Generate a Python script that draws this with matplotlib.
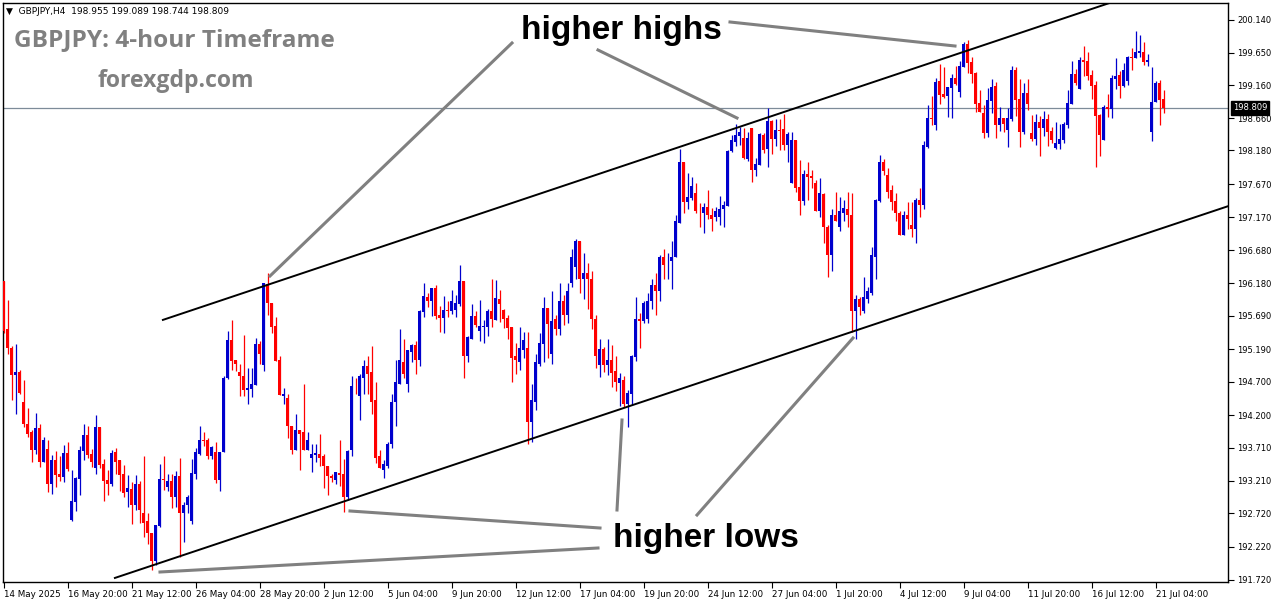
import numpy as np
import matplotlib
matplotlib.use('Agg')
import matplotlib.pyplot as plt
from matplotlib.lines import Line2D

# GBPJPY H4 candles, 14 May 04:00 .. 21 Jul 08:00
opens = [
    196.21, 195.49, 195.21, 194.80, 194.85, 194.40, 194.07, 193.94, 193.68, 194.00,
    193.49, 193.69, 193.17, 193.53, 193.31, 193.27, 193.63, 192.62, 192.89, 193.24,
    193.66, 193.90, 193.61, 193.40, 194.02, 193.46, 193.22, 193.16, 193.64, 193.53,
    193.31, 193.04, 193.09, 192.85, 193.16, 192.73, 192.61, 192.43, 192.01, 192.53,
    193.24, 193.12, 193.21, 192.96, 193.29, 192.73, 192.84, 192.61, 193.31, 193.62,
    193.83, 193.82, 193.59, 193.65, 193.23, 193.64, 194.76, 195.33, 195.02, 194.85,
    194.79, 194.57, 194.59, 194.65, 195.27, 194.95, 196.17, 195.89, 195.54, 195.02,
    194.48, 194.45, 194.04, 193.68, 193.98, 193.94, 193.68, 193.55, 193.60, 193.62,
    193.58, 193.44, 193.29, 193.23, 193.33, 193.31, 192.97, 193.67, 194.64, 194.49,
    194.76, 194.93, 194.84, 194.42, 193.59, 193.38, 193.44, 193.76, 194.39, 194.67,
    195.00, 194.67, 195.15, 195.26, 195.02, 195.75, 195.98, 195.92, 196.11, 195.71,
    195.66, 195.78, 195.77, 195.78, 195.87, 196.22, 195.09, 195.35, 195.69, 195.47,
    195.53, 195.53, 195.77, 195.63, 195.95, 195.78, 195.66, 195.53, 195.08, 195.00,
    195.18, 195.21, 194.10, 194.40, 194.96, 195.27, 195.81, 195.12, 195.64, 195.49,
    195.91, 195.71, 196.19, 196.43, 196.81, 196.25, 196.33, 196.25, 195.64, 194.95,
    195.19, 194.95, 195.02, 194.86, 194.68, 194.72, 194.36, 194.51, 195.07, 195.64,
    195.62, 195.65, 195.91, 196.16, 196.06, 196.58, 196.45, 196.51, 196.57, 197.09,
    198.01, 197.41, 197.47, 197.54, 197.27, 197.24, 197.33, 197.21, 197.17, 197.18,
    197.30, 197.35, 198.17, 198.31, 198.40, 198.37, 198.05, 198.52, 197.89, 197.96,
    198.41, 198.20, 198.62, 198.35, 198.49, 198.50, 198.26, 197.69, 198.34, 197.63,
    197.42, 197.83, 197.80, 197.69, 197.26, 197.53, 197.03, 196.60, 197.21, 197.02,
    197.24, 197.30, 197.21, 195.77, 195.94, 195.76, 195.94, 196.04, 196.58, 197.42,
    198.01, 197.81, 197.59, 197.42, 197.24, 196.91, 197.21, 197.06, 197.00, 197.44,
    197.36, 198.23, 198.67, 198.56, 199.22, 199.03, 199.00, 199.12, 199.27, 199.06,
    199.43, 199.78, 199.51, 199.34, 198.89, 198.74, 198.44, 198.92, 199.15, 198.56,
    198.67, 198.49, 198.65, 199.39, 198.95, 198.46, 199.04, 198.44, 198.35, 198.61,
    198.52, 198.65, 198.47, 198.22, 198.28, 198.34, 198.56, 198.88, 199.33, 199.10,
    199.54, 199.52, 199.31, 199.16, 198.71, 198.34, 198.83, 198.80, 199.25, 199.31,
    199.15, 199.22, 199.58, 199.57, 199.64, 199.66, 199.51, 198.46, 198.91, 199.19,
    198.955,
]
highs = [
    196.22, 195.93, 195.24, 195.27, 194.88, 194.73, 194.31, 193.98, 194.23, 194.07,
    193.87, 193.83, 193.60, 193.66, 193.59, 193.75, 193.79, 193.37, 193.27, 193.74,
    194.07, 194.04, 193.69, 194.20, 194.02, 193.54, 193.37, 193.68, 193.71, 193.53,
    193.45, 193.30, 193.19, 193.30, 193.21, 193.59, 192.73, 192.43, 192.55, 193.47,
    193.59, 193.31, 193.31, 193.36, 193.56, 192.89, 193.00, 193.54, 193.70, 194.04,
    193.94, 193.85, 193.74, 193.80, 193.65, 194.78, 195.47, 195.63, 195.02, 194.97,
    195.41, 194.90, 194.90, 195.36, 195.32, 196.19, 196.33, 195.89, 195.68, 195.08,
    194.60, 194.51, 194.04, 194.22, 193.98, 194.67, 193.95, 193.77, 193.77, 193.91,
    193.61, 193.44, 193.31, 193.34, 193.82, 193.54, 193.67, 194.79, 194.76, 194.82,
    195.03, 195.09, 195.24, 194.69, 193.67, 193.53, 193.80, 194.52, 195.03, 195.50,
    195.35, 195.17, 195.27, 195.32, 195.78, 196.19, 196.04, 196.11, 196.16, 195.84,
    195.99, 195.92, 196.08, 196.01, 196.46, 196.22, 195.39, 195.87, 195.77, 195.93,
    195.63, 195.80, 196.25, 196.23, 196.08, 195.80, 195.71, 195.53, 195.29, 195.53,
    195.45, 195.45, 194.67, 195.11, 195.44, 195.98, 195.81, 196.07, 195.71, 196.18,
    196.01, 196.19, 196.70, 196.85, 196.81, 196.64, 196.49, 196.37, 195.70, 195.35,
    195.23, 195.35, 195.25, 195.08, 194.83, 194.78, 194.57, 195.10, 195.97, 195.74,
    195.91, 196.04, 196.24, 196.34, 196.61, 196.70, 196.64, 196.81, 197.21, 198.20,
    198.01, 197.84, 197.78, 197.69, 197.39, 197.39, 197.59, 197.32, 197.33, 197.50,
    197.42, 198.19, 198.41, 198.58, 198.53, 198.52, 198.46, 198.52, 198.07, 198.44,
    198.44, 198.82, 198.64, 198.65, 198.65, 198.73, 198.46, 198.46, 198.34, 198.04,
    197.89, 198.01, 197.89, 197.74, 197.77, 197.54, 197.06, 197.30, 197.56, 197.48,
    197.44, 197.56, 197.54, 196.00, 195.97, 196.27, 196.13, 196.73, 197.45, 198.11,
    198.05, 197.92, 197.66, 197.54, 197.26, 197.27, 197.41, 197.41, 197.47, 197.62,
    198.32, 198.86, 199.00, 199.27, 199.48, 199.43, 199.13, 199.33, 199.45, 199.52,
    199.81, 199.84, 199.58, 199.36, 199.09, 198.86, 199.12, 199.25, 199.21, 198.83,
    198.67, 198.82, 199.45, 199.43, 199.25, 199.19, 199.25, 198.71, 198.73, 198.70,
    198.77, 198.73, 198.53, 198.61, 198.58, 198.61, 199.09, 199.52, 199.40, 199.58,
    199.75, 199.66, 199.39, 199.22, 198.73, 198.86, 199.03, 199.31, 199.57, 199.37,
    199.49, 199.60, 199.72, 199.97, 199.91, 199.81, 199.63, 199.43, 199.22, 199.24,
    199.089,
]
lows = [
    195.44, 195.11, 194.43, 194.22, 194.51, 194.02, 193.87, 193.49, 193.62, 193.42,
    193.49, 193.04, 193.01, 193.12, 193.21, 193.19, 193.36, 192.61, 192.76, 193.00,
    193.53, 193.55, 193.42, 193.31, 193.40, 192.91, 193.00, 193.13, 193.31, 193.06,
    192.96, 192.82, 192.56, 192.77, 192.58, 192.36, 192.26, 191.87, 191.95, 192.52,
    193.07, 193.06, 192.80, 192.82, 192.07, 192.29, 192.73, 192.56, 193.24, 193.60,
    193.73, 193.54, 193.54, 193.18, 193.05, 193.64, 194.74, 194.88, 194.86, 194.48,
    194.48, 194.37, 194.47, 194.65, 194.96, 194.86, 195.71, 195.44, 195.01, 194.50,
    194.36, 193.86, 193.62, 193.68, 193.38, 193.68, 193.67, 193.35, 193.49, 193.44,
    193.10, 192.99, 193.19, 193.17, 193.13, 192.74, 192.92, 193.58, 194.52, 194.12,
    194.52, 194.52, 194.22, 193.48, 193.41, 193.25, 193.40, 193.71, 194.03, 194.67,
    194.75, 194.54, 194.99, 194.81, 194.93, 195.68, 195.83, 195.69, 195.65, 195.45,
    195.44, 195.68, 195.72, 195.68, 195.84, 194.76, 195.00, 195.35, 195.53, 195.32,
    195.29, 195.39, 195.53, 195.63, 195.60, 195.51, 195.35, 194.70, 194.81, 194.88,
    195.05, 193.76, 193.80, 194.28, 194.94, 195.00, 195.05, 194.96, 195.41, 195.40,
    195.56, 195.58, 196.13, 196.24, 196.04, 195.95, 195.80, 195.50, 194.90, 194.77,
    194.84, 194.80, 194.62, 194.56, 194.33, 194.32, 194.02, 194.35, 195.01, 195.20,
    195.58, 195.58, 195.80, 195.70, 195.91, 196.24, 196.24, 196.09, 196.57, 197.09,
    197.24, 197.30, 197.44, 197.24, 197.03, 196.94, 197.14, 196.96, 197.12, 197.05,
    197.03, 197.35, 198.16, 198.25, 198.26, 198.05, 198.02, 197.71, 197.80, 197.96,
    198.14, 197.93, 198.13, 198.25, 198.19, 198.19, 198.01, 197.69, 197.56, 197.20,
    197.36, 197.44, 197.62, 197.26, 197.18, 196.78, 196.27, 196.36, 197.11, 196.97,
    197.11, 197.03, 195.45, 195.35, 195.70, 195.74, 195.88, 196.00, 196.24, 197.41,
    197.81, 197.47, 197.29, 197.12, 196.90, 196.91, 197.00, 196.87, 196.78, 197.18,
    197.30, 198.22, 198.56, 198.49, 198.88, 198.97, 198.68, 198.67, 199.16, 198.98,
    199.43, 199.34, 199.19, 198.76, 198.76, 198.37, 198.38, 198.74, 198.37, 198.47,
    198.46, 198.23, 198.62, 198.70, 198.23, 198.43, 198.79, 198.32, 198.26, 198.10,
    198.40, 198.25, 198.29, 198.20, 198.20, 198.29, 198.52, 198.88, 199.16, 199.10,
    199.30, 199.24, 198.95, 197.93, 198.10, 198.34, 198.68, 198.67, 199.10, 198.97,
    199.13, 199.16, 199.39, 199.57, 199.58, 199.46, 199.45, 198.32, 198.91, 198.56,
    198.744,
]
closes = [
    195.46, 195.20, 194.80, 194.85, 194.53, 194.06, 193.92, 193.68, 194.00, 193.49,
    193.83, 193.17, 193.53, 193.30, 193.27, 193.63, 193.39, 192.91, 193.25, 193.68,
    193.90, 193.60, 193.49, 194.02, 193.45, 193.21, 193.16, 193.63, 193.50, 193.30,
    193.03, 193.10, 192.85, 193.16, 192.77, 192.58, 192.42, 192.01, 192.55, 193.24,
    193.23, 193.21, 192.96, 193.29, 192.73, 192.85, 192.96, 193.33, 193.64, 193.83,
    193.81, 193.59, 193.72, 193.23, 193.65, 194.76, 195.33, 195.01, 194.96, 194.78,
    194.57, 194.60, 194.66, 195.27, 195.11, 196.19, 195.88, 195.53, 195.01, 194.50,
    194.52, 194.03, 193.68, 193.98, 193.91, 193.68, 193.82, 193.61, 193.63, 193.56,
    193.43, 193.28, 193.25, 193.34, 193.30, 192.97, 193.66, 194.64, 194.63, 194.78,
    194.93, 194.82, 194.40, 193.56, 193.41, 193.46, 193.77, 194.39, 194.69, 195.02,
    194.81, 195.17, 195.26, 195.02, 195.77, 195.99, 195.92, 196.11, 195.69, 195.66,
    195.78, 195.77, 195.92, 195.89, 196.22, 195.09, 195.38, 195.69, 195.56, 195.54,
    195.54, 195.77, 195.65, 195.96, 195.87, 195.65, 195.51, 195.06, 195.02, 195.20,
    195.33, 194.10, 194.42, 194.99, 195.29, 195.81, 195.57, 195.62, 195.49, 195.91,
    195.71, 196.07, 196.57, 196.81, 196.25, 196.33, 196.24, 195.64, 195.08, 195.19,
    194.95, 195.02, 194.83, 194.69, 194.75, 194.36, 194.53, 195.08, 195.64, 195.62,
    195.89, 195.92, 196.16, 196.06, 196.58, 196.45, 196.46, 196.58, 197.11, 198.01,
    197.41, 197.48, 197.65, 197.26, 197.26, 197.33, 197.20, 197.15, 197.27, 197.30,
    197.36, 198.17, 198.34, 198.41, 198.46, 198.07, 198.37, 197.89, 197.98, 198.43,
    198.19, 198.62, 198.35, 198.49, 198.47, 198.26, 198.43, 198.34, 197.62, 197.42,
    197.83, 197.78, 197.77, 197.27, 197.54, 197.02, 196.60, 197.21, 197.11, 197.26,
    197.32, 197.20, 195.77, 195.94, 195.83, 195.97, 196.06, 196.60, 197.44, 198.01,
    197.87, 197.56, 197.41, 197.23, 196.91, 197.20, 197.15, 197.00, 197.44, 197.36,
    198.26, 198.67, 198.65, 199.21, 199.01, 198.98, 199.13, 199.27, 199.18, 199.45,
    199.78, 199.49, 199.33, 198.88, 198.76, 198.44, 198.94, 199.13, 198.56, 198.67,
    198.58, 198.67, 199.39, 198.94, 198.46, 199.04, 198.88, 198.35, 198.61, 198.52,
    198.65, 198.46, 198.34, 198.29, 198.35, 198.58, 198.89, 199.33, 199.19, 199.54,
    199.51, 199.30, 199.15, 198.70, 198.41, 198.83, 198.80, 199.27, 199.30, 199.15,
    199.39, 199.58, 199.57, 199.66, 199.67, 199.51, 199.54, 198.91, 199.19, 198.94,
    198.809,
]

time_labels = ['14 May 2025', '16 May 20:00', '21 May 12:00', '26 May 04:00',
               '28 May 20:00', '2 Jun 12:00', '5 Jun 04:00', '9 Jun 20:00',
               '12 Jun 12:00', '17 Jun 04:00', '19 Jun 20:00', '24 Jun 12:00',
               '27 Jun 04:00', '1 Jul 20:00', '4 Jul 12:00', '9 Jul 04:00',
               '11 Jul 20:00', '16 Jul 12:00', '21 Jul 04:00']
label_step = 16  # one time label every 16 bars

price_ticks = [200.140, 199.650, 199.160, 198.660, 198.180, 197.670, 197.170,
               196.680, 196.180, 195.690, 195.190, 194.700, 194.200, 193.710,
               193.210, 192.720, 192.220, 191.720]
last_price = 198.809

# channel lines: (bar, price) anchors
upper_channel = [(39.8, 195.63), (306.0, 200.99)]
lower_channel = [(27.8, 191.75), (306.1, 197.34)]

W, H = 1276, 604
BLUE = '#0000cd'
RED = '#ff0000'
GREY = '#808080'

fig = plt.figure(figsize=(W / 100, H / 100), dpi=100)
ax = fig.add_axes([3 / W, 22 / H, 1225 / W, 579 / H])

o = np.array(opens)
h = np.array(highs)
l = np.array(lows)
c = np.array(closes)
x = np.arange(len(c))
cols = np.where(c >= o, BLUE, RED)

ax.vlines(x, l, h, colors=cols, linewidth=0.9, zorder=3)
body_h = np.maximum(np.abs(c - o), 0.013)
ax.bar(x, body_h, 0.75, bottom=np.minimum(o, c), color=cols, linewidth=0, zorder=4)

ax.set_xlim(-0.175, 306.075)
ax.set_ylim(191.689, 200.395)

for (x0, y0), (x1, y1) in (upper_channel, lower_channel):
    ax.plot([x0, x1], [y0, y1], color='black', lw=1.4, zorder=5)

ax.axhline(last_price, color='#7d8b99', lw=0.9, zorder=2)

ax.yaxis.tick_right()
ax.set_yticks(price_ticks)
ax.set_yticklabels(['%.3f' % p for p in price_ticks])
ax.set_xticks(np.arange(len(time_labels)) * label_step)
ax.set_xticklabels(time_labels, ha='left')
ax.tick_params(axis='both', labelsize=6.3, length=4, width=0.8, pad=2, colors='black')
ax.tick_params(axis='y', labelsize=6.0, pad=2.5)
for s in ax.spines.values():
    s.set_linewidth(1.0)


def fpt(px, py):
    return px / W, 1 - py / H


# current price marker on the right scale
fig.text(*fpt(1233, 108), '%.3f' % last_price, fontsize=6.0, color='white', va='center',
         ha='left', bbox=dict(boxstyle='square,pad=0.25', fc='black', ec='black'))

# header / titles
fig.text(*fpt(6, 11), '\u25bc  GBPJPY,H4  198.955 199.089 198.744 198.809',
         fontsize=6.5, va='center', ha='left')
fig.text(*fpt(14, 40), 'GBPJPY: 4-hour Timeframe', fontsize=17.6, fontweight='bold',
         family='Open Sans', color=GREY, va='center', ha='left')
fig.text(*fpt(98, 81), 'forexgdp.com', fontsize=16.6, fontweight='bold',
         family='Open Sans', color=GREY, va='center', ha='left')

# annotations
fig.text(*fpt(621, 30), 'higher highs', fontsize=24, fontweight='bold',
         family='Liberation Sans', va='center', ha='center')
fig.text(*fpt(706, 539), 'higher lows', fontsize=24, fontweight='bold',
         family='Liberation Sans', va='center', ha='center')

arrows = [
    ((270, 276), (512, 43)),
    ((598, 50), (737, 118)),
    ((730, 22), (955, 46)),
    ((350, 511), (600, 528)),
    ((160, 572), (598, 548)),
    ((617, 510), (622, 420)),
    ((697, 515), (853, 338)),
]
for p0, p1 in arrows:
    a, b = fpt(*p0), fpt(*p1)
    fig.add_artist(Line2D([a[0], b[0]], [a[1], b[1]], color=GREY, lw=2.2,
                          transform=fig.transFigure))

fig.savefig('out.png', dpi=100)
